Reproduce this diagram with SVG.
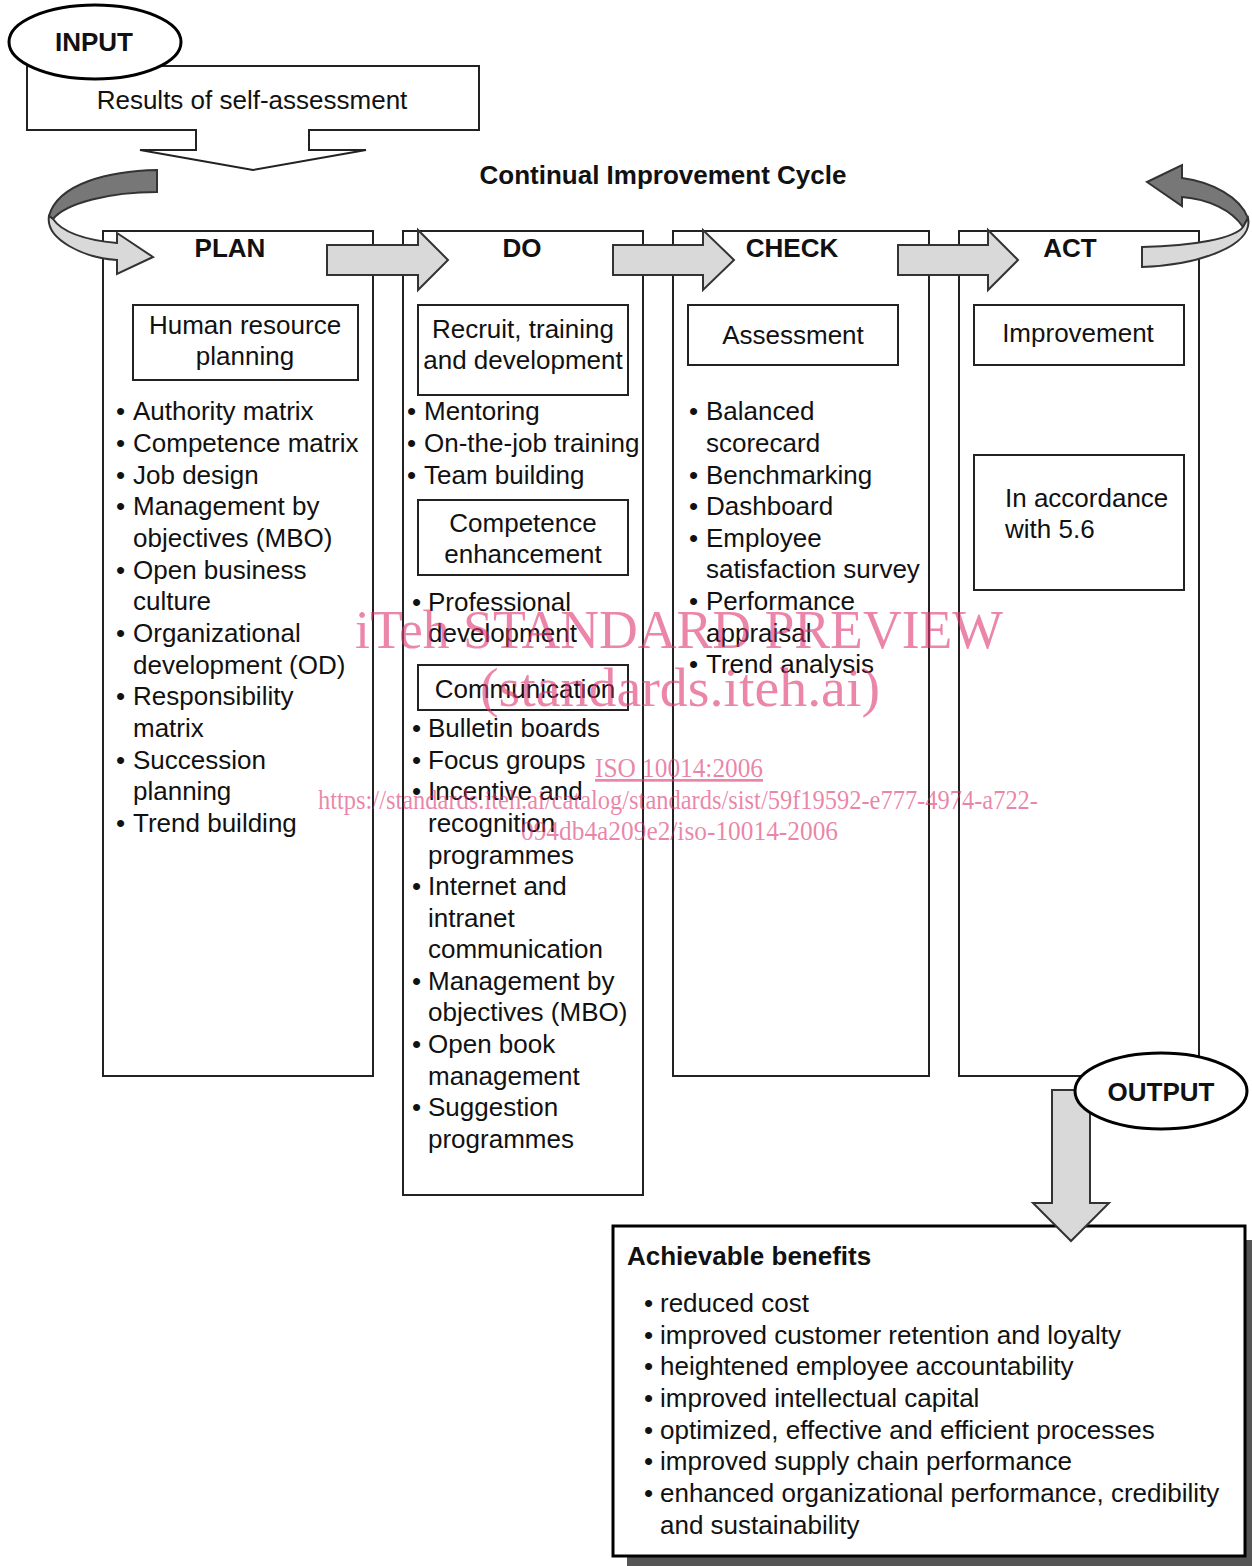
<svg xmlns="http://www.w3.org/2000/svg" width="1252" height="1566" viewBox="0 0 1252 1566">
<style>
text{font-family:"Liberation Sans",Arial,sans-serif;font-size:26px;fill:#111}
.b{font-weight:bold}
.c{text-anchor:middle}
.col{fill:#fff;stroke:#222;stroke-width:2}
.box{fill:#fff;stroke:#222;stroke-width:2}
.arr{fill:#d9d9d9;stroke:#333;stroke-width:2;stroke-linejoin:miter}
.dk{fill:#777;stroke:#333;stroke-width:2}
.ell{fill:#fff;stroke:#000;stroke-width:3}
text.wm{font-family:"Liberation Serif","Times New Roman",serif;fill:#dd3370;fill-opacity:0.6}
text.wl{font-size:54px}
text.ws{font-size:27px}
</style>
<rect width="1252" height="1566" fill="#fff"/>

<g id="results">
<path class="box" d="M27,66 H479 V130 H309 V150 H366 L253,170 L140,150 H196 V130 H27 Z"/>
<text class="c" x="252" y="109">Results of self-assessment</text>
</g>
<g id="input">
<ellipse class="ell" cx="95" cy="42" rx="86" ry="37"/>
<text class="b c" x="94" y="51">INPUT</text>
</g>

<g id="title"><text class="b c" x="663" y="184">Continual Improvement Cycle</text></g>

<g id="plan">
<rect class="col" x="103" y="231" width="270" height="845"/>
<text class="b c" x="230" y="257">PLAN</text>
<rect class="box" x="133" y="305" width="225" height="75"/>
<text class="c" x="245" y="334">Human resource</text>
<text class="c" x="245" y="365">planning</text>
<text x="116" y="420">•</text><text x="133" y="420">Authority matrix</text>
<text x="116" y="452">•</text><text x="133" y="452">Competence matrix</text>
<text x="116" y="484">•</text><text x="133" y="484">Job design</text>
<text x="116" y="515">•</text><text x="133" y="515">Management by</text>
<text x="133" y="547">objectives (MBO)</text>
<text x="116" y="579">•</text><text x="133" y="579">Open business</text>
<text x="133" y="610">culture</text>
<text x="116" y="642">•</text><text x="133" y="642">Organizational</text>
<text x="133" y="674">development (OD)</text>
<text x="116" y="705">•</text><text x="133" y="705">Responsibility</text>
<text x="133" y="737">matrix</text>
<text x="116" y="769">•</text><text x="133" y="769">Succession</text>
<text x="133" y="800">planning</text>
<text x="116" y="832">•</text><text x="133" y="832">Trend building</text>
</g>

<g id="do">
<rect class="col" x="403" y="231" width="240" height="964"/>
<text class="b c" x="522" y="257">DO</text>
<rect class="box" x="418" y="305" width="210" height="90"/>
<text class="c" x="523" y="338">Recruit, training</text>
<text class="c" x="523" y="369">and development</text>
<text x="407" y="420">•</text><text x="424" y="420">Mentoring</text>
<text x="407" y="452">•</text><text x="424" y="452">On-the-job training</text>
<text x="407" y="484">•</text><text x="424" y="484">Team building</text>
<rect class="box" x="418" y="500" width="210" height="75"/>
<text class="c" x="523" y="532">Competence</text>
<text class="c" x="523" y="563">enhancement</text>
<text x="412" y="611">•</text><text x="428" y="611">Professional</text>
<text x="428" y="642">development</text>
<rect class="box" x="418" y="665" width="210" height="45"/>
<text class="c" x="525" y="698">Communication</text>
<text x="412" y="737">•</text><text x="428" y="737">Bulletin boards</text>
<text x="412" y="769">•</text><text x="428" y="769">Focus groups</text>
<text x="412" y="800">•</text><text x="428" y="800">Incentive and</text>
<text x="428" y="832">recognition</text>
<text x="428" y="864">programmes</text>
<text x="412" y="895">•</text><text x="428" y="895">Internet and</text>
<text x="428" y="927">intranet</text>
<text x="428" y="958">communication</text>
<text x="412" y="990">•</text><text x="428" y="990">Management by</text>
<text x="428" y="1021">objectives (MBO)</text>
<text x="412" y="1053">•</text><text x="428" y="1053">Open book</text>
<text x="428" y="1085">management</text>
<text x="412" y="1116">•</text><text x="428" y="1116">Suggestion</text>
<text x="428" y="1148">programmes</text>
</g>

<g id="check">
<rect class="col" x="673" y="231" width="256" height="845"/>
<text class="b c" x="792" y="257">CHECK</text>
<rect class="box" x="688" y="305" width="210" height="60"/>
<text class="c" x="793" y="344">Assessment</text>
<text x="689" y="420">•</text><text x="706" y="420">Balanced</text>
<text x="706" y="452">scorecard</text>
<text x="689" y="484">•</text><text x="706" y="484">Benchmarking</text>
<text x="689" y="515">•</text><text x="706" y="515">Dashboard</text>
<text x="689" y="547">•</text><text x="706" y="547">Employee</text>
<text x="706" y="578">satisfaction survey</text>
<text x="689" y="610">•</text><text x="706" y="610">Performance</text>
<text x="706" y="642">appraisal</text>
<text x="689" y="673">•</text><text x="706" y="673">Trend analysis</text>
</g>

<g id="act">
<rect class="col" x="959" y="231" width="240" height="845"/>
<text class="b c" x="1070" y="257">ACT</text>
<rect class="box" x="974" y="305" width="210" height="60"/>
<text class="c" x="1078" y="342">Improvement</text>
<rect class="box" x="974" y="455" width="210" height="135"/>
<text x="1005" y="507">In accordance</text>
<text x="1005" y="538">with 5.6</text>
</g>

<g id="benefits">
<rect x="627" y="1240" width="625" height="326" fill="#555"/>
<rect x="613" y="1226" width="632" height="330" fill="#fff" stroke="#000" stroke-width="3"/>
<text class="b" x="627" y="1265">Achievable benefits</text>
<text x="644" y="1312">•</text><text x="660" y="1312">reduced cost</text>
<text x="644" y="1344">•</text><text x="660" y="1344">improved customer retention and loyalty</text>
<text x="644" y="1375">•</text><text x="660" y="1375">heightened employee accountability</text>
<text x="644" y="1407">•</text><text x="660" y="1407">improved intellectual capital</text>
<text x="644" y="1439">•</text><text x="660" y="1439">optimized, effective and efficient processes</text>
<text x="644" y="1470">•</text><text x="660" y="1470">improved supply chain performance</text>
<text x="644" y="1502">•</text><text x="660" y="1502">enhanced organizational performance, credibility</text>
<text x="660" y="1534">and sustainability</text>
</g>

<g id="connectors">
<path class="dk" d="M157,170 C110,171 58,183 49,216 L53,219 C66,203 110,192 157,192 Z"/>
<path class="arr" d="M49,216 C45,240 85,258 117,260 L117,274 L153,257 L117,233 L117,243 C85,240 62,232 53,219 Z"/>
<path class="arr" d="M327,245 H418 V230 L448,260 L418,290 V275 H327 Z"/>
<path class="arr" d="M613,245 H703 V230 L734,260 L703,290 V275 H613 Z"/>
<path class="arr" d="M898,245 H988 V230 L1018,260 L988,290 V275 H898 Z"/>
<path class="dk" d="M1182,178 C1212,182 1240,197 1248,218 L1243,227 C1232,210 1208,199 1182,197 L1182,206 L1147,182 L1182,165 Z"/>
<path class="arr" d="M1248,218 C1254,245 1200,265 1142,267 L1142,247 C1195,246 1235,238 1243,227 Z"/>
<path class="arr" d="M1052,1090 H1090 V1203 H1109 L1071,1241 L1033,1203 H1052 Z"/>
</g>

<g id="output">
<ellipse class="ell" cx="1161" cy="1091" rx="86" ry="38"/>
<text class="b c" x="1161" y="1101">OUTPUT</text>
</g>

<g id="watermark">
<text class="wm wl" x="355" y="648" textLength="648" lengthAdjust="spacingAndGlyphs">iTeh STANDARD PREVIEW</text>
<text class="wm wl" x="480" y="706" textLength="400" lengthAdjust="spacingAndGlyphs">(standards.iteh.ai)</text>
<text class="wm ws" x="595" y="777" textLength="168" lengthAdjust="spacingAndGlyphs" text-decoration="underline">ISO 10014:2006</text>
<text class="wm ws" x="318" y="809" textLength="720" lengthAdjust="spacingAndGlyphs">https://standards.iteh.ai/catalog/standards/sist/59f19592-e777-4974-a722-</text>
<text class="wm ws" x="521" y="840" textLength="317" lengthAdjust="spacingAndGlyphs">094db4a209e2/iso-10014-2006</text>
</g>
</svg>
